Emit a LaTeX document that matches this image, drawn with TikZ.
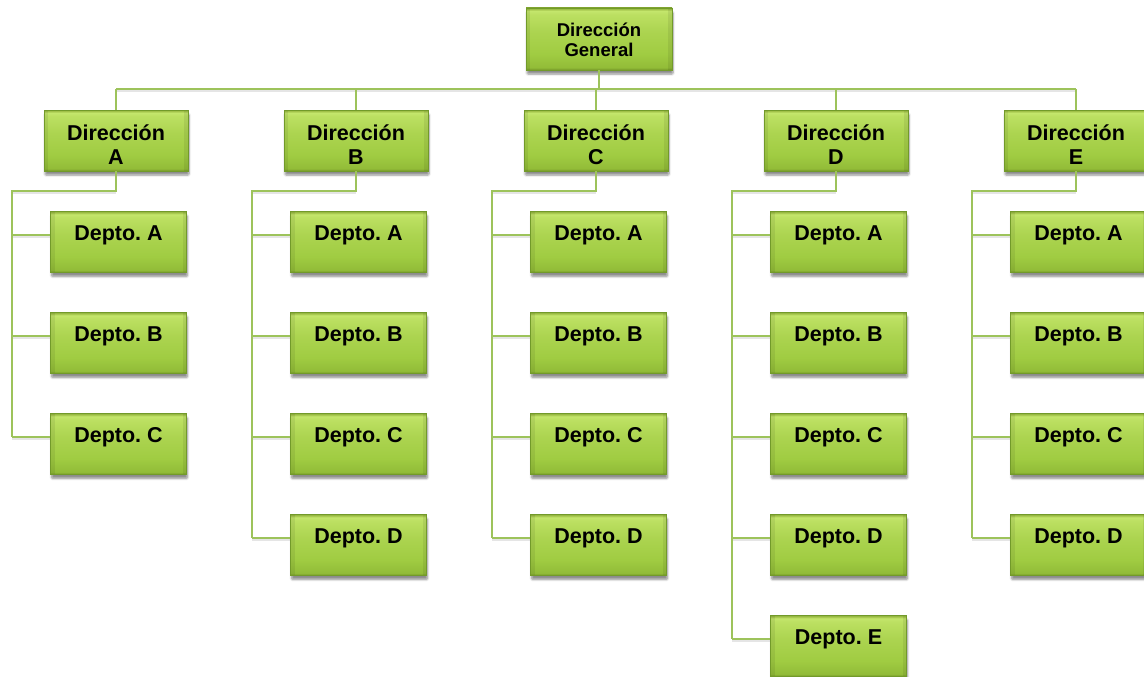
\documentclass[tikz,border=0pt]{standalone}
\usepackage{fontspec}
\setmainfont{Liberation Sans}
\usetikzlibrary{shadows.blur,calc}
\frenchspacing

\definecolor{boxedge}{HTML}{729A2A}
\definecolor{linkgreen}{HTML}{9DC35B}

% bevelled green fill: dark rim at the top, bright band below it,
% slowly darkening towards the bottom edge
\pgfdeclareverticalshading{bevelgreen}{100bp}{
  color(0bp)=(green!50!black);
  color(25bp)=(green!50!black);
  color(25.6bp)=({rgb,255:red,126;green,162;blue,44});
  color(27bp)=({rgb,255:red,146;green,188;blue,56});
  color(38bp)=({rgb,255:red,160;green,204;blue,66});
  color(56bp)=({rgb,255:red,172;green,212;blue,80});
  color(70bp)=({rgb,255:red,188;green,224;blue,98});
  color(72.6bp)=({rgb,255:red,196;green,230;blue,108});
  color(74bp)=({rgb,255:red,164;green,196;blue,76});
  color(75bp)=({rgb,255:red,144;green,178;blue,60});
  color(100bp)=({rgb,255:red,144;green,178;blue,60})}

\tikzset{
  box/.style={rectangle, draw=boxedge, line width=0.5pt, shading=bevelgreen,
    blur shadow={shadow xshift=1pt, shadow yshift=-4pt, shadow blur steps=6,
      shadow blur extra rounding=1pt, shadow opacity=45},
    path picture={
      \fill[black, opacity=0.07]
        (path picture bounding box.south west) rectangle
        ([xshift=4pt]path picture bounding box.north west);
      \fill[black, opacity=0.07]
        ([xshift=-4pt]path picture bounding box.south east) rectangle
        (path picture bounding box.north east);
    }},
  topbox/.style={box, minimum width=146pt, minimum height=62pt, inner sep=0pt},
  dirbox/.style={box, minimum width=144pt, minimum height=61pt, inner sep=0pt},
  deptbox/.style={box, minimum width=136pt, minimum height=61pt, inner sep=0pt},
  lbl/.style={font=\bfseries\fontsize{21.5}{23.5}\selectfont, align=center, text=black, inner sep=0pt},
  toplbl/.style={font=\bfseries\fontsize{18.5}{20}\selectfont, align=center, text=black, inner sep=0pt},
  link/.style={draw=linkgreen, line width=1.9pt},
  linkshade/.style={draw=black, opacity=0.1, line width=2pt},
}

\begin{document}
\begin{tikzpicture}[x=1pt, y=-1pt]
  \useasboundingbox (0,0) rectangle (1144,677);

  % top of the hierarchy
  \node[topbox] (g) at (599,39) {};
  \node[toplbl] (gt) at ([yshift=-1pt]g.center) {Dirección\\General};
  \coordinate (bus) at ($(g.south)+(0,19)$);

  % directions and their departments
  \foreach \d/\n/\k in {A/0/3, B/1/4, C/2/4, D/3/5, E/4/4} {
    \node[dirbox] (d\d) at ({116+240*\n},140.5) {};
    \node[lbl] (d\d t) at ([yshift=-4pt]d\d.center) {Dirección\\\d};
    \foreach \j/\m in {1/A, 2/B, 3/C, 4/D, 5/E} {
      \ifnum\j>\k\relax\else
        \node[deptbox] (\d\j) at ({118.5+240*\n},{242+101*(\j-1)}) {};
        \node[lbl] (\d\j t) at ([yshift=7pt]\d\j.center) {Depto. \m};
      \fi
    }
  }

  % connectors from the top box to each direction
  \draw[linkshade] ([yshift=-2pt]bus -| dA.north) -- ([yshift=-2pt]bus -| dE.north);
  \draw[link] (g.south) -- (bus);
  \draw[link] (bus -| dA.north) -- (bus -| dE.north);
  \foreach \d in {A,B,C,D,E}
    \draw[link] (bus -| d\d.north) -- (d\d.north);

  % connectors from each direction to its departments
  \foreach \d/\k in {A/3, B/4, C/4, D/5, E/4} {
    \coordinate (k\d) at ($(d\d.south)+(-104,20)$);
    \draw[linkshade] ([yshift=-2pt]k\d) -- ([yshift=-2pt]d\d.south |- k\d);
    \foreach \j in {1,...,\k}
      \draw[linkshade] ([yshift=-2pt]k\d |- \d\j t) -- ([yshift=-2pt]\d\j.west |- \d\j t);
    \draw[link] (d\d.south) |- (k\d) -- (k\d |- \d\k t);
    \foreach \j in {1,...,\k}
      \draw[link] (k\d |- \d\j t) -- (\d\j.west |- \d\j t);
  }
\end{tikzpicture}
\end{document}
